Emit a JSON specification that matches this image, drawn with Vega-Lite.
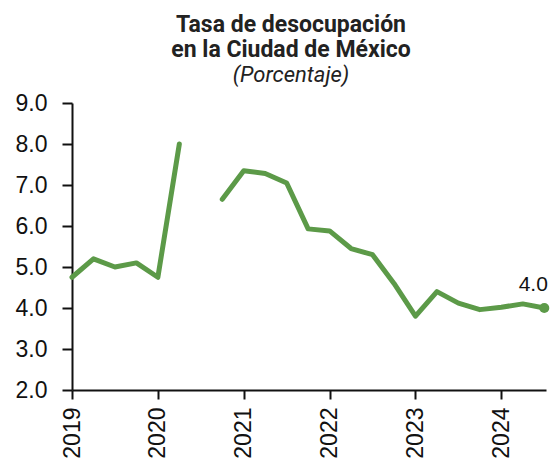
{
  "$schema": "https://vega.github.io/schema/vega-lite/v6.json",
  "autosize": {"type": "none"},
  "padding": {"left": 72, "top": 103, "right": 5, "bottom": 74},
  "width": 474,
  "height": 287,
  "background": "white",
  "config": {"view": {"stroke": null}},
  "title": {
    "text": ["Tasa de desocupación", "en la Ciudad de México"],
    "subtitle": "(Porcentaje)",
    "font": "Roboto",
    "fontWeight": "bold",
    "fontSize": 23,
    "lineHeight": 25,
    "color": "#222",
    "subtitleFont": "Roboto",
    "subtitleFontStyle": "italic",
    "subtitleFontSize": 22,
    "subtitleColor": "#222",
    "subtitlePadding": 3,
    "anchor": "middle",
    "dx": -18,
    "offset": 6
  },
  "data": {
    "values": [
      {"t": 2019.0, "v": 4.75, "seg": "a"},
      {"t": 2019.25, "v": 5.2, "seg": "a"},
      {"t": 2019.5, "v": 5.0, "seg": "a"},
      {"t": 2019.75, "v": 5.1, "seg": "a"},
      {"t": 2020.0, "v": 4.75, "seg": "a"},
      {"t": 2020.25, "v": 8.0, "seg": "a"},
      {"t": 2020.75, "v": 6.65, "seg": "b"},
      {"t": 2021.0, "v": 7.35, "seg": "b"},
      {"t": 2021.25, "v": 7.28, "seg": "b"},
      {"t": 2021.5, "v": 7.05, "seg": "b"},
      {"t": 2021.75, "v": 5.93, "seg": "b"},
      {"t": 2022.0, "v": 5.88, "seg": "b"},
      {"t": 2022.25, "v": 5.45, "seg": "b"},
      {"t": 2022.5, "v": 5.3, "seg": "b"},
      {"t": 2022.75, "v": 4.6, "seg": "b"},
      {"t": 2023.0, "v": 3.8, "seg": "b"},
      {"t": 2023.25, "v": 4.4, "seg": "b"},
      {"t": 2023.5, "v": 4.12, "seg": "b"},
      {"t": 2023.75, "v": 3.96, "seg": "b"},
      {"t": 2024.0, "v": 4.02, "seg": "b"},
      {"t": 2024.25, "v": 4.1, "seg": "b"},
      {"t": 2024.5, "v": 4.0, "seg": "b", "last": true}
    ]
  },
  "encoding": {
    "x": {
      "field": "t", "type": "quantitative",
      "scale": {"domain": [2019, 2024.52], "nice": false, "zero": false},
      "axis": {
        "title": null, "grid": false, "values": [2019, 2020, 2021, 2022, 2023, 2024],
        "format": "d", "labelAngle": -90, "labelAlign": "right", "labelBaseline": "middle",
        "labelFont": "Liberation Sans", "labelFontSize": 23, "labelColor": "#111",
        "labelPadding": 8, "tickSize": 9, "tickWidth": 2, "tickColor": "#111",
        "domainColor": "#111", "domainWidth": 2
      }
    },
    "y": {
      "field": "v", "type": "quantitative",
      "scale": {"domain": [2, 9], "nice": false, "zero": false},
      "axis": {
        "title": null, "grid": false, "values": [2, 3, 4, 5, 6, 7, 8, 9], "format": ".1f",
        "labelFont": "Liberation Sans", "labelFontSize": 23, "labelColor": "#111",
        "labelPadding": 15, "tickSize": 10, "tickWidth": 2, "tickColor": "#111",
        "domainColor": "#111", "domainWidth": 2
      }
    }
  },
  "layer": [
    {
      "mark": {"type": "line", "color": "#5c9a48", "strokeWidth": 5, "strokeJoin": "round", "strokeCap": "round"},
      "encoding": {"detail": {"field": "seg"}}
    },
    {
      "transform": [{"filter": "datum.last"}],
      "mark": {"type": "point", "filled": true, "color": "#5c9a48", "size": 100, "opacity": 1}
    },
    {
      "transform": [{"filter": "datum.last"}],
      "mark": {"type": "text", "font": "Liberation Sans", "fontSize": 21, "color": "#111", "dx": -11, "dy": -23},
      "encoding": {"text": {"field": "v", "type": "quantitative", "format": ".1f"}}
    }
  ]
}
